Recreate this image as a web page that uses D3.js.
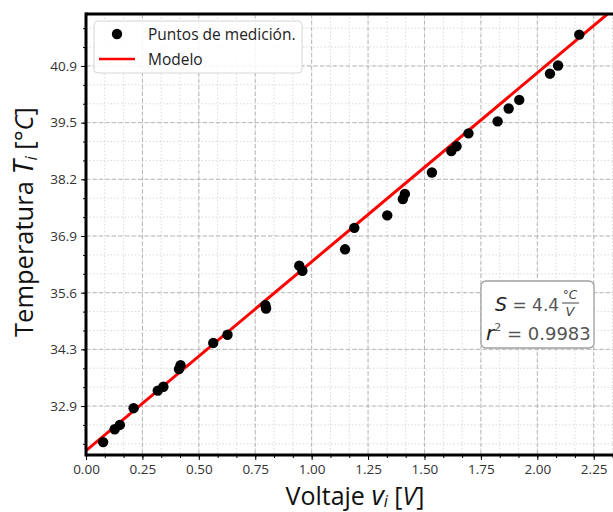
<!DOCTYPE html>
<html><head><meta charset="utf-8">
<script src="https://cdn.jsdelivr.net/npm/d3@7"></script>
<style>
body{margin:0;background:#fff;}
svg{display:block;font-family:"Open Sans","Noto Sans",sans-serif;}
</style></head>
<body><svg id="c" width="613" height="512"></svg>
<script>
const voltaje = [0.076,0.127,0.150,0.211,0.318,0.343,0.412,0.419,0.564,0.627,0.795,0.798,0.945,0.959,1.148,1.189,1.335,1.404,1.413,1.533,1.619,1.642,1.695,1.824,1.873,1.920,2.056,2.092,2.186];
const temperatura = [32.10,32.40,32.50,32.89,33.30,33.39,33.80,33.89,34.41,34.60,35.29,35.21,36.21,36.09,36.59,37.09,37.38,37.76,37.88,38.38,38.88,38.99,39.29,39.57,39.87,40.07,40.68,40.87,41.59];
const pendiente = 4.4;
const intercepto = 31.9;
const xTicks = [0,0.25,0.5,0.75,1.0,1.25,1.5,1.75,2.0,2.25];
const yTicks = [32.94,34.26,35.58,36.90,38.22,39.54,40.86];
const yTickLabels = ["32.9","34.3","35.6","36.9","38.2","39.5","40.9"];
const r2 = "0.9983";

const svg = d3.select("#c");
const L=86, T=14, B=455, R=618;
const x = d3.scaleLinear().domain([0,2.3576]).range([L,R]);
const y = d3.scaleLinear().domain([31.80,42.07]).range([B,T]);

const xMinor=[]; for(let v=0; v<=2.4; v+=0.25/3) xMinor.push(v);
const yStep=(yTicks[1]-yTicks[0])/3;
const yMinor=[]; for(let v=yTicks[0]-3*yStep; v<=42.1; v+=yStep) if(v>=31.8) yMinor.push(v);

const g = svg.append("g");
g.selectAll(".mgx").data(xMinor).join("line").attr("x1",d=>x(d)).attr("x2",d=>x(d)).attr("y1",T).attr("y2",B)
 .attr("stroke","#d0d0d0").attr("stroke-width",0.8).attr("stroke-dasharray","1.5,2");
g.selectAll(".mgy").data(yMinor).join("line").attr("y1",d=>y(d)).attr("y2",d=>y(d)).attr("x1",L).attr("x2",R)
 .attr("stroke","#d0d0d0").attr("stroke-width",0.8).attr("stroke-dasharray","1.5,2");
g.selectAll(".gx").data(xTicks).join("line").attr("x1",d=>x(d)).attr("x2",d=>x(d)).attr("y1",T).attr("y2",B)
 .attr("stroke","#b0b0b0").attr("stroke-width",0.9).attr("stroke-dasharray","4,2.5");
g.selectAll(".gy").data(yTicks).join("line").attr("y1",d=>y(d)).attr("y2",d=>y(d)).attr("x1",L).attr("x2",R)
 .attr("stroke","#b0b0b0").attr("stroke-width",0.9).attr("stroke-dasharray","4,2.5");

svg.append("clipPath").attr("id","clip").append("rect").attr("x",L).attr("y",T).attr("width",R-L).attr("height",B-T);
const pg = svg.append("g").attr("clip-path","url(#clip)");
const lineX=[0,2.4];
pg.append("path").datum(lineX).attr("d",d3.line().x(d=>x(d)).y(d=>y(intercepto+pendiente*d)))
 .attr("stroke","#ff0000").attr("stroke-width",3).attr("fill","none");
pg.selectAll("circle").data(voltaje.map((v,i)=>[v,temperatura[i]])).join("circle")
 .attr("cx",d=>x(d[0])).attr("cy",d=>y(d[1])).attr("r",5.2).attr("fill","#000");

const xAxis = d3.axisBottom(x).tickValues(xTicks).tickFormat(d3.format(".2f")).tickSize(5).tickPadding(4);
const xa = svg.append("g").attr("transform",`translate(0,${B})`).call(xAxis);
const xAxisMinor = d3.axisBottom(x).tickValues(xMinor).tickFormat("").tickSize(3);
svg.append("g").attr("transform",`translate(0,${B})`).call(xAxisMinor).select(".domain").remove();
const yAxis = d3.axisLeft(y).tickValues(yTicks).tickFormat((d,i)=>yTickLabels[i]).tickSize(5).tickPadding(4);
const ya = svg.append("g").attr("transform",`translate(${L},0)`).call(yAxis);
svg.append("g").attr("transform",`translate(${L},0)`).call(d3.axisLeft(y).tickValues(yMinor).tickFormat("").tickSize(3)).select(".domain").remove();
[xa,ya].forEach(a=>{a.select(".domain").remove(); a.selectAll("text").attr("font-size",13.5).attr("fill","#333").attr("font-family","'Open Sans',sans-serif");});
svg.selectAll(".tick line").attr("stroke","#000");

svg.append("line").attr("x1",L).attr("x2",R).attr("y1",B).attr("y2",B).attr("stroke","#000").attr("stroke-width",3);
svg.append("line").attr("x1",L).attr("x2",R).attr("y1",T).attr("y2",T).attr("stroke","#000").attr("stroke-width",3);
svg.append("line").attr("x1",L).attr("x2",L).attr("y1",T-1.5).attr("y2",B+1.5).attr("stroke","#000").attr("stroke-width",3);

const xl = svg.append("text").attr("x",355).attr("y",505).attr("text-anchor","middle").attr("font-size",25).attr("fill","#111");
xl.append("tspan").text("Voltaje ");
xl.append("tspan").attr("font-style","italic").attr("font-size",27).text("v");
xl.append("tspan").attr("font-style","italic").attr("font-size",16).attr("dy",2).text("i");
xl.append("tspan").attr("dy",-2).text(" [");
xl.append("tspan").attr("font-style","italic").text("V");
xl.append("tspan").text("]");

const yl = svg.append("text").attr("transform","translate(33,222) rotate(-90)").attr("text-anchor","middle").attr("font-size",25.5).attr("fill","#111");
yl.append("tspan").text("Temperatura ");
yl.append("tspan").attr("font-style","italic").attr("font-size",28).text("T");
yl.append("tspan").attr("font-style","italic").attr("font-size",17).attr("dy",4).text("i");
yl.append("tspan").attr("dy",-4).text(" [°");
yl.append("tspan").attr("font-style","italic").text("C");
yl.append("tspan").text("]");

const lg = svg.append("g");
lg.append("rect").attr("x",94).attr("y",21).attr("width",208).attr("height",52).attr("rx",4)
 .attr("fill","rgba(255,255,255,0.85)").attr("stroke","#d6d6d6");
lg.append("circle").attr("cx",117).attr("cy",34).attr("r",5.2).attr("fill","#000");
lg.append("text").attr("x",148).attr("y",39.5).attr("font-size",15.5).attr("fill","#222").text("Puntos de medición.");
lg.append("line").attr("x1",99).attr("x2",135).attr("y1",59).attr("y2",59).attr("stroke","#ff0000").attr("stroke-width",2.5);
lg.append("text").attr("x",148).attr("y",64.5).attr("font-size",15.5).attr("fill","#222").text("Modelo");

const an = svg.append("g").attr("font-family","'DejaVu Sans',sans-serif");
an.append("rect").attr("x",481).attr("y",281).attr("width",113).attr("height",67).attr("rx",5)
 .attr("fill","#fff").attr("stroke","#a0a0a0").attr("stroke-width",1.3);
const t1 = an.append("text").attr("x",495).attr("y",311).attr("font-size",17).attr("fill","#555");
t1.append("tspan").attr("font-style","italic").attr("font-size",19).attr("fill","#222").text("S");
t1.append("tspan").text(" = 4.4");
an.append("text").attr("x",570).attr("y",299).attr("text-anchor","middle").attr("font-size",12).attr("fill","#444").attr("font-style","italic").text("°C");
an.append("line").attr("x1",562).attr("x2",579).attr("y1",303).attr("y2",303).attr("stroke","#444").attr("stroke-width",1);
an.append("text").attr("x",570).attr("y",316).attr("text-anchor","middle").attr("font-size",13).attr("fill","#444").attr("font-style","italic").text("V");
const t2 = an.append("text").attr("x",486).attr("y",340).attr("font-size",18).attr("fill","#555");
t2.append("tspan").attr("font-style","italic").attr("font-size",20).attr("fill","#222").text("r");
t2.append("tspan").attr("font-size",11).attr("dy",-9).text("2");
t2.append("tspan").attr("dy",9).text(" = " + r2);
</script></body></html>
